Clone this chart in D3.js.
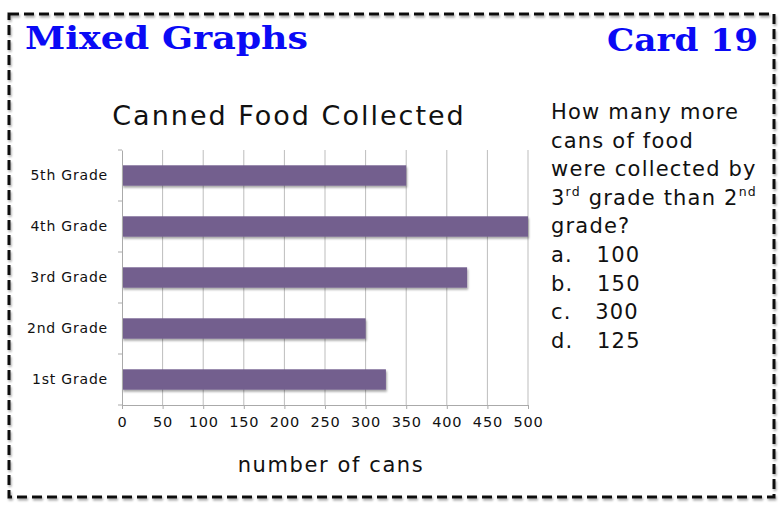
<!DOCTYPE html>
<html>
<head>
<meta charset="utf-8">
<script src="https://cdn.jsdelivr.net/npm/d3@7"></script>
<style>
  body { margin: 0; background: #fff; }
  svg { display: block; }
</style>
</head>
<body>
<div id="card"></div>
<script>
// chart data
const grades = ["1st Grade", "2nd Grade", "3rd Grade", "4th Grade", "5th Grade"];
const cans = [325, 300, 425, 500, 350];
const xTicks = [0, 50, 100, 150, 200, 250, 300, 350, 400, 450, 500];

// question text on the right
const questionLines = [
  ["How many more"],
  ["cans of food"],
  ["were collected by"],
  ["3", "rd", " grade than 2", "nd"],
  ["grade?"],
  ["a.   100"],
  ["b.   150"],
  ["c.   300"],
  ["d.   125"]
];

const W = 783, H = 508;
const font = "'DejaVu Sans', sans-serif";

const svg = d3.select("#card")
  .append("svg")
  .attr("width", W)
  .attr("height", H);

// shadow for frame and bars
const defs = svg.append("defs");
defs.append("filter")
  .attr("id", "shadow")
  .attr("x", "-5%").attr("y", "-20%")
  .attr("width", "110%").attr("height", "150%")
  .append("feDropShadow")
  .attr("dx", 1).attr("dy", 2)
  .attr("stdDeviation", 1.2)
  .attr("flood-color", "#000")
  .attr("flood-opacity", 0.35);

// dashed card frame
svg.append("rect")
  .attr("x", 9).attr("y", 14)
  .attr("width", 765).attr("height", 483)
  .attr("fill", "none")
  .attr("stroke", "#111")
  .attr("stroke-width", 3)
  .attr("stroke-dasharray", "10,5")
  .attr("filter", "url(#shadow)");

// header
svg.append("text")
  .attr("x", 25).attr("y", 49)
  .attr("fill", "#0a0af5")
  .attr("font-family", "'DejaVu Serif', serif")
  .attr("font-weight", "bold")
  .attr("font-size", 31)
  .attr("textLength", 283)
  .attr("lengthAdjust", "spacingAndGlyphs")
  .text("Mixed Graphs");

svg.append("text")
  .attr("x", 607).attr("y", 51)
  .attr("fill", "#0a0af5")
  .attr("font-family", "'DejaVu Serif', serif")
  .attr("font-weight", "bold")
  .attr("font-size", 31)
  .attr("textLength", 151)
  .attr("lengthAdjust", "spacingAndGlyphs")
  .text("Card 19");

// chart area
const margin = { top: 150, left: 122 };
const width = 406, height = 255;

const g = svg.append("g")
  .attr("transform", `translate(${margin.left},${margin.top})`);

const x = d3.scaleLinear().domain([0, 500]).range([0, width]);
const y = d3.scaleBand().domain(grades.slice().reverse()).range([0, height]).paddingInner(0.6).paddingOuter(0.3);

// title
svg.append("text")
  .attr("x", 289).attr("y", 125)
  .attr("text-anchor", "middle")
  .attr("font-family", font)
  .attr("font-size", 27)
  .attr("letter-spacing", 2)
  .attr("fill", "#111")
  .text("Canned Food Collected");

// gridlines
g.append("g")
  .selectAll("line")
  .data(xTicks.slice(1))
  .join("line")
  .attr("x1", d => x(d)).attr("x2", d => x(d))
  .attr("y1", 0).attr("y2", height)
  .attr("stroke", "#bdbdbd")
  .attr("stroke-width", 1);

// bars
g.append("g")
  .selectAll("rect")
  .data(grades)
  .join("rect")
  .attr("x", 0)
  .attr("y", d => y(d))
  .attr("width", (d, i) => x(cans[i]))
  .attr("height", y.bandwidth())
  .attr("fill", "#735e8e")
  .attr("filter", "url(#shadow)");

// x axis
const xAxis = g.append("g")
  .attr("transform", `translate(0,${height})`)
  .call(d3.axisBottom(x).tickValues(xTicks).tickSize(4).tickPadding(8));
xAxis.select(".domain").attr("stroke", "#aaa");
xAxis.selectAll(".tick line").attr("stroke", "#aaa");
xAxis.selectAll("text")
  .attr("font-family", font)
  .attr("font-size", 14.5)
  .attr("letter-spacing", 0.8)
  .attr("fill", "#111");

// y axis with ticks between categories
const yAxis = g.append("g")
  .call(d3.axisLeft(y).tickSize(0).tickPadding(14));
yAxis.select(".domain").attr("stroke", "#aaa");
yAxis.selectAll("text")
  .attr("font-family", font)
  .attr("font-size", 14)
  .attr("letter-spacing", 0.8)
  .attr("fill", "#111");

g.append("g")
  .selectAll("line")
  .data(d3.range(grades.length + 1))
  .join("line")
  .attr("x1", -4).attr("x2", 0)
  .attr("y1", d => d * height / grades.length)
  .attr("y2", d => d * height / grades.length)
  .attr("stroke", "#aaa");

// x axis title
svg.append("text")
  .attr("x", 331).attr("y", 472)
  .attr("text-anchor", "middle")
  .attr("font-family", font)
  .attr("font-size", 21)
  .attr("letter-spacing", 1.6)
  .attr("fill", "#111")
  .text("number of cans");

// question
const q = svg.append("g").attr("font-family", font).attr("fill", "#111");
questionLines.forEach((parts, i) => {
  const t = q.append("text")
    .attr("x", 551)
    .attr("y", 119 + i * 28.6)
    .attr("font-size", 21)
    .attr("letter-spacing", 1.2)
    .style("white-space", "pre");
  parts.forEach((p, j) => {
    const isSup = p === "rd" || p === "nd";
    t.append("tspan")
      .attr("font-size", isSup ? 12.5 : 21)
      .attr("dy", isSup ? -9 : (j > 0 && (parts[j - 1] === "rd" || parts[j - 1] === "nd") ? 9 : 0))
      .text(p);
  });
});
</script>
</body>
</html>
